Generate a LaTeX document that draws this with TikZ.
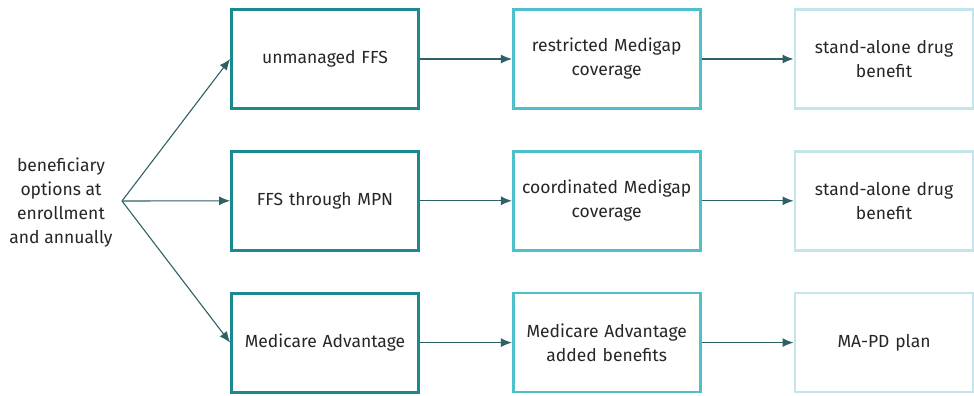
\documentclass[tikz,border=0pt]{standalone}
\usepackage{fontspec}
\setmainfont{Fira Sans}
\usetikzlibrary{arrows.meta,positioning}
\definecolor{tealdark}{HTML}{1A8A90}
\definecolor{tealmid}{HTML}{4DC0CC}
\definecolor{teallight}{HTML}{C4E6EA}
\definecolor{arrowteal}{HTML}{2E6166}
\tikzstyle{option}=[
	rectangle,
	align=center,
	text width=172pt,
	minimum width=187pt,
	minimum height=99pt,
	font=\fontsize{17.5}{24}\selectfont,
	text=black!85,
	node distance=40pt and 92pt
]
\tikzstyle{first}=[option, draw=tealdark, line width=2.8pt]
\tikzstyle{second}=[option, draw=tealmid, line width=2.6pt]
\tikzstyle{third}=[option, draw=teallight, line width=2.4pt, minimum width=176pt]
\tikzstyle{choice}=[
	-{Latex[length=11pt,width=9pt]},
	draw=arrowteal,
	line width=1.1pt
]

\begin{document}
\begin{tikzpicture}[x=1pt,y=-1pt]
\useasboundingbox (0,0) rectangle (974,396);
\node [align=center, font=\fontsize{17.5}{24}\selectfont, text=black!85] (options) at (61,203)
	{beneficiary\\options at\\enrollment\\and annually};
\coordinate (fan) at (122,201);
% first choice
\node [first] (unmanaged) at (325,59) {unmanaged FFS};
\node [first] (mpn) [below=of unmanaged] {FFS through MPN};
\node [first] (advantage) [below=of mpn] {Medicare Advantage};
% supplemental coverage
\node [second] (restricted) [right=of unmanaged] {restricted Medigap\\coverage};
\node [second] (coordinated) [right=of mpn] {coordinated Medigap\\coverage};
\node [second] (added) [right=of advantage] {Medicare Advantage\\added benefits};
% drug coverage
\node [third] (drugA) [right=of restricted] {stand-alone drug\\benefit};
\node [third] (drugB) [right=of coordinated] {stand-alone drug\\benefit};
\node [third] (mapd) [right=of added] {MA-PD plan};
\draw [choice] (fan) -- (unmanaged.west);
\draw [choice] (fan) -- (mpn.west);
\draw [choice] (fan) -- (advantage.west);
\draw [choice] (unmanaged) -- (restricted);
\draw [choice] (mpn) -- (coordinated);
\draw [choice] (advantage) -- (added);
\draw [choice] (restricted) -- (drugA);
\draw [choice] (coordinated) -- (drugB);
\draw [choice] (added) -- (mapd);
\end{tikzpicture}
\end{document}
